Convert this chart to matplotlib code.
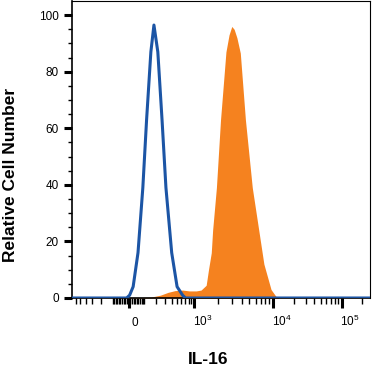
import numpy as np
import matplotlib
matplotlib.use("Agg")
import matplotlib.pyplot as plt
import matplotlib.transforms as mtransforms

plt.rcParams['font.family'] = ['Liberation Sans', 'DejaVu Sans']
plt.rcParams['mathtext.default'] = 'regular'

# isotype control (blue outline) - fluorescence value vs relative count
blue_x = [-700, -12, 6, 27, 57, 89, 116, 150, 177, 215, 262, 312, 400, 501, 628, 705, 260000]
blue_y = [0, 0, 1, 4, 16, 39, 63, 87, 96.5, 87, 63, 39, 16, 4, 1, 0, 0]

# IL-16 stained cells (orange filled)
orange_x = [-20, 150, 243, 343, 458, 628, 825, 1064, 1226, 1424, 1524, 1653, 1720, 1920,
            2165, 2535, 2773, 3005, 3220, 3489, 3852, 4470, 5460, 6585, 7650, 9420,
            11050, 12200]
orange_y = [0, 0.3, 1, 2, 2.6, 2.8, 2.5, 2.5, 2.8, 4.5, 10, 16, 24, 39,
            63, 87, 93, 96, 95, 92, 86.6, 63, 39, 24, 12, 3,
            0.5, 0]

x_major = [0, 1e3, 1e4, 1e5]
x_major_labels = ['0', '$10^3$', '$10^4$', '$10^5$']
y_major = [0, 20, 40, 60, 80, 100]

# logicle-like display scale, built on arcsinh with decade anchors
W = 150.0
anchor_vals = np.array([-1e3, 0, 1e3, 1e4, 1e5, 1e6])
anchor_u = np.arcsinh(anchor_vals / W)
anchor_pos = np.array([63, 128.5, 194, 273, 341.5, 410])


def fwd(x):
    return np.interp(np.arcsinh(np.asarray(x, dtype=float) / W), anchor_u, anchor_pos)


def inv(p):
    return W * np.sinh(np.interp(np.asarray(p, dtype=float), anchor_pos, anchor_u))


fig = plt.figure(figsize=(3.72, 3.73), dpi=100)
ax = fig.add_axes([72 / 372, 75 / 373, 298 / 372, 297 / 373])
ax.set_xscale('function', functions=(fwd, inv))

ax.fill_between(orange_x, orange_y, 0, color='#f5821f', linewidth=0, zorder=2)
ax.plot(blue_x, blue_y, color='#1c55a5', linewidth=2.2, solid_joinstyle='round', zorder=3)

ax.set_xlim(-700, 2.6e5)
ax.set_ylim(0, 105)

minor_x = (list(range(-600, 0, 100)) + list(range(-90, 0, 10)) + list(range(10, 100, 10))
           + list(range(100, 1000, 100)) + list(range(2000, 10000, 1000))
           + list(range(20000, 100000, 10000)) + [200000])
ax.set_xticks(x_major)
ax.set_xticklabels(x_major_labels)
ax.set_xticks(minor_x, minor=True)
ax.set_yticks(y_major)
ax.set_yticks(np.arange(0, 105, 5), minor=True)

ax.tick_params(axis='both', which='major', direction='out', width=2.2, labelsize=8.5)
ax.tick_params(axis='x', which='major', length=7.5, pad=13)
ax.tick_params(axis='y', which='major', length=6, pad=3.5)
ax.tick_params(axis='both', which='minor', direction='out', width=1.0)
ax.tick_params(axis='x', which='minor', length=4)
ax.tick_params(axis='y', which='minor', length=3)

offsets = [2.5, -1.5, -1.5, -1.5]
for lab, dx in zip(ax.get_xticklabels(), offsets):
    lab.set_horizontalalignment('left')
    lab.set_verticalalignment('baseline')
    lab.set_transform(lab.get_transform() + mtransforms.ScaledTranslation(dx / 100, 0, fig.dpi_scale_trans))

for s in ['left', 'bottom']:
    ax.spines[s].set_linewidth(1.2)
for s in ['top', 'right']:
    ax.spines[s].set_linewidth(0.8)

fig.text(11 / 372, 0.531, 'Relative Cell Number', rotation=90, ha='center', va='center',
         fontsize=12.5, fontweight='bold')
fig.text(208 / 372, 13 / 373, 'IL-16', ha='center', va='center', fontsize=12.5, fontweight='bold')

fig.savefig('out.png', dpi=100)
